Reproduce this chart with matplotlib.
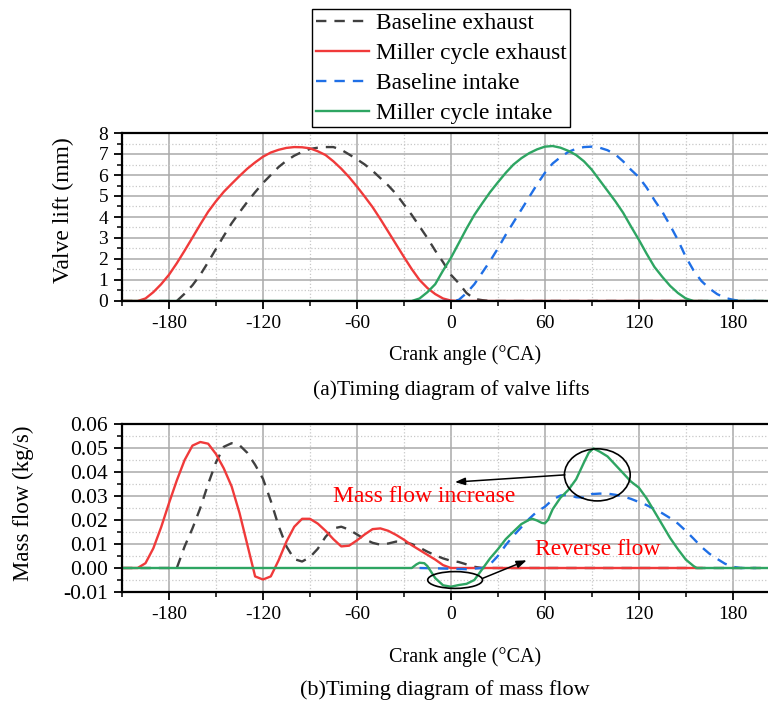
import numpy as np
import matplotlib
matplotlib.use("Agg")
import matplotlib.pyplot as plt
from matplotlib.patches import Ellipse
from matplotlib.ticker import MultipleLocator, FormatStrFormatter

plt.rcParams['font.family'] = 'serif'
plt.rcParams['font.serif'] = ['Liberation Serif', 'DejaVu Serif']
plt.rcParams['axes.unicode_minus'] = False

# ---------------- data ----------------
# (a) valve lift, mm
base_exh_x = [-210, -175, -170, -165, -160, -155, -150, -145, -140, -135, -130, -125, -120,
              -115, -110, -105, -100, -95, -90, -85, -80, -75, -70, -65, -60, -55, -50,
              -45, -40, -35, -30, -25, -20, -15, -10, -5, 0, 5, 10, 15, 20, 25, 210]
base_exh_lift = [0, 0.0, 0.35, 0.75, 1.25, 1.85, 2.48, 3.1, 3.7, 4.22, 4.72, 5.18, 5.62,
                 6.0, 6.38, 6.68, 6.92, 7.1, 7.24, 7.3, 7.33, 7.33, 7.2, 6.98, 6.75, 6.5, 6.2,
                 5.85, 5.5, 5.1, 4.6, 4.1, 3.55, 3.0, 2.4, 1.85, 1.25, 0.85, 0.38, 0.1, 0.04, 0.0, 0]

miller_exh_x = [-210, -200, -195, -190, -185, -180, -175, -170, -165, -160, -155, -150, -145,
                -140, -135, -130, -125, -120, -115, -110, -105, -100, -95, -90, -85, -80,
                -75, -70, -65, -60, -55, -50, -45, -40, -35, -30, -25, -20, -15, -10, -5,
                0, 5, 160]
miller_exh_lift = [0, 0, 0.12, 0.42, 0.8, 1.25, 1.8, 2.4, 3.02, 3.65, 4.25, 4.75, 5.2,
                   5.58, 5.95, 6.3, 6.6, 6.87, 7.07, 7.2, 7.29, 7.33, 7.32, 7.27, 7.13, 6.95,
                   6.65, 6.3, 5.9, 5.45, 4.97, 4.47, 3.9, 3.3, 2.7, 2.1, 1.52, 1.0, 0.62, 0.33,
                   0.12, 0.02, 0.0, 0]

base_int_x = [-20, 0, 5, 10, 15, 20, 25, 30, 35, 40, 45, 50, 55, 60, 65, 70, 75, 80, 85, 90,
              95, 100, 105, 110, 115, 120, 125, 130, 135, 140, 145, 150, 155, 160, 165, 170,
              175, 180, 185, 195]
base_int_lift = [0, 0.0, 0.05, 0.38, 0.8, 1.35, 1.9, 2.5, 3.15, 3.75, 4.35, 4.95, 5.55, 6.1,
                 6.55, 6.85, 7.1, 7.25, 7.33, 7.35, 7.3, 7.18, 6.98, 6.65, 6.25, 5.9, 5.4,
                 4.8, 4.25, 3.6, 2.9, 2.1, 1.45, 0.95, 0.6, 0.33, 0.15, 0.06, 0.0, 0]

miller_int_x = [-210, -25, -20, -15, -10, -5, 0, 5, 10, 15, 20, 25, 30, 35, 40, 45, 50, 55,
                60, 65, 70, 75, 80, 85, 90, 95, 100, 105, 110, 115, 120, 125, 130, 135, 140,
                145, 150, 155, 210]
miller_int_lift = [0, 0.0, 0.12, 0.42, 0.8, 1.45, 2.05, 2.75, 3.45, 4.1, 4.65, 5.18, 5.65,
                   6.1, 6.5, 6.8, 7.04, 7.22, 7.35, 7.38, 7.3, 7.15, 6.95, 6.65, 6.25, 5.75,
                   5.25, 4.75, 4.2, 3.55, 2.92, 2.25, 1.62, 1.15, 0.72, 0.38, 0.12, 0.0, 0]

# (b) mass flow, kg/s
base_exh_mf_x = [-210, -175, -170, -165, -160, -155, -150, -145, -140, -135, -130, -125, -120,
                 -115, -110, -105, -100, -95, -90, -85, -80, -75, -70, -65, -60, -55, -50,
                 -45, -40, -35, -30, -25, -20, -15, -10, -5, 0, 5, 10, 15, 20, 210]
base_exh_mf = [0, 0.0, 0.009, 0.0165, 0.025, 0.035, 0.044, 0.0505, 0.052, 0.0512, 0.048,
               0.043, 0.0372, 0.028, 0.0175, 0.009, 0.0037, 0.0027, 0.0045, 0.008, 0.013,
               0.0165, 0.0172, 0.016, 0.014, 0.012, 0.0105, 0.0097, 0.0102, 0.011, 0.0108,
               0.01, 0.0085, 0.0068, 0.0053, 0.004, 0.003, 0.0025, 0.0015, 0.0005, 0.0, 0]

miller_exh_mf_x = [-210, -200, -195, -190, -185, -180, -175, -170, -165, -160, -155, -150,
                   -145, -140, -135, -130, -125, -120, -115, -110, -105, -100, -95, -90, -85,
                   -80, -75, -70, -65, -60, -55, -50, -45, -40, -35, -30, -25, -20, -15, -10,
                   -5, 0, 160]
miller_exh_mf = [0, 0, 0.002, 0.0082, 0.017, 0.027, 0.0365, 0.045, 0.051, 0.0525, 0.0518,
                 0.0475, 0.0415, 0.034, 0.023, 0.0098, -0.0035, -0.0048, -0.0035, 0.0032,
                 0.011, 0.0172, 0.0205, 0.0205, 0.0185, 0.0155, 0.012, 0.009, 0.0093, 0.0115,
                 0.014, 0.0162, 0.0165, 0.0155, 0.0138, 0.0118, 0.0095, 0.0075, 0.0055,
                 0.0035, 0.0012, 0.0, 0]

base_int_mf_x = [-20, 0, 10, 20, 25, 30, 35, 40, 45, 50, 55, 60, 65, 70, 75, 80, 85, 90, 95,
                 100, 105, 110, 115, 120, 125, 130, 135, 140, 145, 150, 155, 160, 165, 170,
                 175, 180, 185, 195]
base_int_mf = [0, -0.0003, -0.0005, 0.0, 0.0015, 0.005, 0.0095, 0.0135, 0.017, 0.0205,
               0.0235, 0.0255, 0.0285, 0.0302, 0.0305, 0.0295, 0.0293, 0.0308, 0.031, 0.031,
               0.0305, 0.0298, 0.0288, 0.0275, 0.0262, 0.0245, 0.0228, 0.0208, 0.0185,
               0.0155, 0.0122, 0.0088, 0.006, 0.0038, 0.0018, 0.0005, 0.0, 0]

miller_int_mf_x = [-210, -25, -22, -20, -17, -15, -12, -10, -5, 0, 5, 10, 15, 20, 25, 30, 35,
                   40, 45, 50, 52, 55, 58, 60, 62, 65, 70, 75, 80, 85, 88, 91, 95, 100, 105,
                   110, 115, 120, 125, 130, 135, 140, 145, 150, 155, 157, 210]
miller_int_mf = [0, 0.0, 0.0015, 0.0022, 0.002, 0.0008, -0.0022, -0.0042, -0.0072, -0.0078,
                 -0.0071, -0.0066, -0.005, -0.0005, 0.004, 0.0078, 0.012, 0.0152, 0.0183,
                 0.0201, 0.0205, 0.0198, 0.0188, 0.0186, 0.02, 0.0245, 0.0293, 0.0325, 0.037,
                 0.044, 0.048, 0.0498, 0.0485, 0.0465, 0.043, 0.0395, 0.036, 0.0335, 0.029,
                 0.0235, 0.018, 0.0125, 0.0078, 0.0035, 0.0008, 0.0, 0]

labels = ['Baseline exhaust', 'Miller cycle exhaust', 'Baseline intake', 'Miller cycle intake']
colors = ['#404040', '#f03a3a', '#1f6fe6', '#2ea562']
x_ticks = [-180, -120, -60, 0, 60, 120, 180]

# ---------------- figure ----------------
fig = plt.figure(figsize=(7.68, 7.03), dpi=100)
W = (451 + 210 * 1.5655 - 122) / 768
ax1 = fig.add_axes([122 / 768, 1 - 301 / 703, W, 168 / 703])
ax2 = fig.add_axes([122 / 768, 1 - 592 / 703, W, 168 / 703])

dash = (0, (4.4, 3.4))
lw = 1.7


def draw(ax, series):
    handles = []
    for (x, y), c, ls, lab in zip(series, colors, ['--', '-', '--', '-'], labels):
        h, = ax.plot(x, y, color=c, lw=lw, linestyle=dash if ls == '--' else '-',
                     label=lab, solid_joinstyle='round')
        handles.append(h)
    return handles


handles = draw(ax1, [(base_exh_x, base_exh_lift), (miller_exh_x, miller_exh_lift),
                     (base_int_x, base_int_lift), (miller_int_x, miller_int_lift)])
draw(ax2, [(base_exh_mf_x, base_exh_mf), (miller_exh_mf_x, miller_exh_mf),
           (base_int_mf_x, base_int_mf), (miller_int_mf_x, miller_int_mf)])

for ax in (ax1, ax2):
    ax.set_xlim(-210, 210)
    ax.set_xticks(x_ticks)
    ax.xaxis.set_minor_locator(MultipleLocator(30))
    ax.grid(which='major', color='#aaaaaa', lw=1.1, ls='-')
    ax.grid(which='minor', color='#c8c8c8', lw=0.9, ls=':')
    ax.set_axisbelow(True)
    ax.tick_params(which='major', direction='out', length=6, width=1.3, labelsize=14,
                   pad=4)
    ax.tick_params(which='minor', direction='out', length=3.5, width=1.1)
    for s in ax.spines.values():
        s.set_linewidth(1.6)
    ax.spines['right'].set_visible(False)

ax1.set_ylim(0, 8)
ax1.yaxis.set_major_locator(MultipleLocator(1))
ax1.yaxis.set_minor_locator(MultipleLocator(0.5))

ax2.set_ylim(-0.01, 0.06)
ax2.yaxis.set_major_locator(MultipleLocator(0.01))
ax2.yaxis.set_minor_locator(MultipleLocator(0.005))
ax2.yaxis.set_major_formatter(FormatStrFormatter('%.2f'))
ax2.tick_params(axis='y', labelsize=15.5)

# annotations on (b)
ax2.add_patch(Ellipse((93.5, 0.0388), 42, 0.0217, fill=False, ec='black', lw=1.2, zorder=5))
ax2.add_patch(Ellipse((2.7, -0.005), 35, 0.007, fill=False, ec='black', lw=1.2, zorder=5))
ax2.annotate('', xy=(2.6, 0.0358), xytext=(72.8, 0.0388),
             arrowprops=dict(arrowstyle='-|>,head_length=0.6,head_width=0.22', color='black',
                             lw=1.1, shrinkA=0, shrinkB=0), zorder=6)
ax2.annotate('', xy=(48.4, 0.0032), xytext=(20.3, -0.0043),
             arrowprops=dict(arrowstyle='-|>,head_length=0.6,head_width=0.22', color='black',
                             lw=1.1, shrinkA=0, shrinkB=0), zorder=6)
ax2.text(-17.2, 0.0296, 'Mass flow increase', color='red', fontsize=17, ha='center',
         va='center', zorder=6)
ax2.text(93.7, 0.0076, 'Reverse flow', color='red', fontsize=17, ha='center', va='center',
         zorder=6)

# labels / captions
fig.text(63 / 768, 1 - 210 / 703, 'Valve lift (mm)', fontsize=17, rotation=90,
         ha='center', va='center')
fig.text(23 / 768, 1 - 503 / 703, 'Mass flow (kg/s)', fontsize=16.5, rotation=90,
         ha='center', va='center')
fig.text(465 / 768, 1 - 355 / 703, 'Crank angle (°CA)', fontsize=14.5, ha='center',
         va='center')
fig.text(451 / 768, 1 - 390 / 703, '(a)Timing diagram of valve lifts', fontsize=15.5,
         ha='center', va='center')
fig.text(465 / 768, 1 - 657 / 703, 'Crank angle (°CA)', fontsize=14.5, ha='center',
         va='center')
fig.text(445 / 768, 1 - 690 / 703, '(b)Timing diagram of mass flow', fontsize=16,
         ha='center', va='center')

leg = fig.legend(handles=handles, loc='upper left', bbox_to_anchor=(312 / 768, 1 - 9 / 703),
                 fontsize=16.8, frameon=True, fancybox=False, edgecolor='black',
                 framealpha=1, handlelength=2.3, handletextpad=0.3, labelspacing=0.37,
                 borderpad=0.15, borderaxespad=0)
leg.get_frame().set_linewidth(1.0)

fig.savefig('out.png', dpi=100)
